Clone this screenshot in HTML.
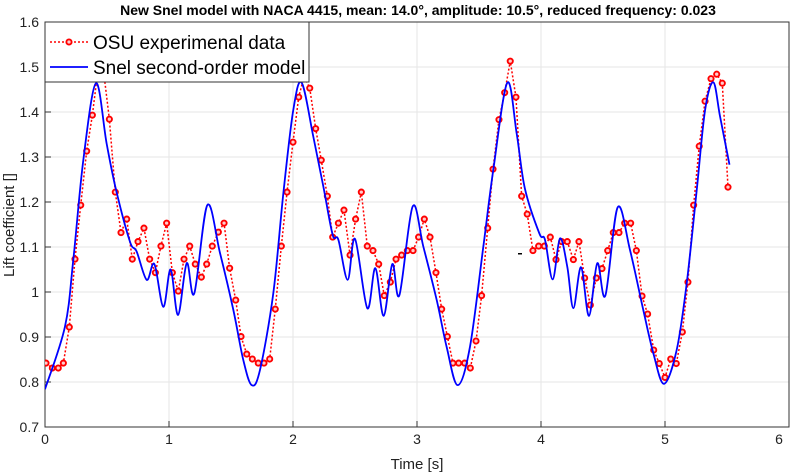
<!DOCTYPE html>
<html><head><meta charset="utf-8"><style>
body{margin:0;background:#fff;}
svg{display:block;font-family:"Liberation Sans",sans-serif;}
</style></head><body>
<svg id="chart" width="791" height="475"></svg>
<script>
const xTicks=[0,1,2,3,4,5,6];
const yTicks=[0.7,0.8,0.9,1.0,1.1,1.2,1.3,1.4,1.5,1.6];
const yTickLabels=["0.7","0.8","0.9","1","1.1","1.2","1.3","1.4","1.5","1.6"];
const osuT=[0.008,0.059,0.107,0.148,0.196,0.242,0.288,0.336,0.382,0.43,0.477,0.519,0.567,0.613,0.659,0.704,0.750,0.798,0.844,0.890,0.935,0.981,1.027,1.075,1.121,1.167,1.212,1.261,1.304,1.349,1.398,1.444,1.489,1.538,1.581,1.627,1.672,1.720,1.766,1.812,1.857,1.906,1.952,2.000,2.046,2.09,2.135,2.183,2.228,2.277,2.320,2.366,2.411,2.460,2.505,2.551,2.599,2.645,2.691,2.736,2.785,2.831,2.876,2.922,2.968,3.013,3.059,3.105,3.153,3.199,3.245,3.290,3.336,3.384,3.430,3.476,3.521,3.570,3.613,3.661,3.707,3.752,3.798,3.844,3.889,3.935,3.981,4.027,4.075,4.121,4.167,4.212,4.261,4.306,4.352,4.398,4.446,4.492,4.538,4.583,4.629,4.675,4.723,4.769,4.815,4.860,4.909,4.954,5.000,5.046,5.091,5.140,5.185,5.231,5.276,5.323,5.371,5.417,5.462,5.508];
const osuCl=[0.842,0.831,0.831,0.842,0.922,1.073,1.193,1.313,1.393,1.50,1.48,1.384,1.222,1.132,1.162,1.073,1.112,1.142,1.073,1.043,1.102,1.153,1.043,1.002,1.073,1.102,1.062,1.033,1.062,1.102,1.133,1.153,1.053,0.982,0.901,0.862,0.851,0.842,0.842,0.851,0.962,1.102,1.222,1.333,1.433,1.48,1.453,1.363,1.293,1.213,1.122,1.153,1.182,1.082,1.162,1.222,1.102,1.092,1.062,0.992,1.022,1.073,1.082,1.092,1.092,1.122,1.162,1.122,1.043,0.962,0.901,0.842,0.842,0.842,0.831,0.891,0.992,1.142,1.273,1.383,1.443,1.513,1.433,1.213,1.173,1.092,1.102,1.102,1.122,1.072,1.112,1.112,1.072,1.112,1.031,0.971,1.031,1.052,1.092,1.132,1.132,1.153,1.153,1.092,0.991,0.951,0.871,0.841,0.810,0.851,0.841,0.911,1.022,1.193,1.324,1.424,1.474,1.484,1.464,1.233];
const snelT=[0.0,0.161,0.228,0.309,0.411,0.497,0.573,0.685,0.739,0.820,0.882,0.954,1.013,1.073,1.143,1.204,1.309,1.411,1.519,1.599,1.667,1.734,1.841,1.922,2.002,2.070,2.164,2.245,2.320,2.366,2.441,2.500,2.599,2.664,2.731,2.801,2.858,2.965,3.051,3.159,3.239,3.328,3.427,3.535,3.615,3.728,3.804,3.870,3.987,4.032,4.094,4.153,4.212,4.261,4.323,4.387,4.454,4.519,4.618,4.718,4.825,4.906,4.992,5.094,5.175,5.256,5.323,5.390,5.444,5.520];
const snelCl=[0.784,0.923,1.071,1.293,1.464,1.330,1.227,1.112,1.090,1.027,1.062,0.967,1.050,0.949,1.064,0.997,1.193,1.087,0.960,0.849,0.793,0.827,0.997,1.219,1.404,1.465,1.345,1.234,1.127,1.116,1.027,1.118,0.964,1.053,0.947,1.062,0.993,1.190,1.101,0.982,0.878,0.793,0.878,1.101,1.271,1.465,1.352,1.230,1.130,1.116,1.028,1.119,1.056,0.964,1.055,0.947,1.064,0.992,1.188,1.093,0.960,0.864,0.796,0.871,1.019,1.227,1.404,1.466,1.390,1.283];

const NS="http://www.w3.org/2000/svg";
const svg=document.getElementById('chart');
const L=45,R=789,T=22,B=427;
const xs=t=>L+(t-0)/6*(R-L);
const ys=v=>B-(v-0.7)/0.9*(B-T);
function mk(tag,attrs,parent){const e=document.createElementNS(NS,tag);for(const k in attrs)e.setAttribute(k,attrs[k]);(parent||svg).appendChild(e);return e;}

const grid=mk('g',{});


xTicks.forEach(t=>{const l=mk('line',{x1:xs(t),x2:xs(t),y1:T,y2:B,stroke:'#e6e6e6','stroke-width':1},grid);

});
yTicks.forEach(v=>{const l=mk('line',{x1:L,x2:R,y1:ys(v),y2:ys(v),stroke:'#e6e6e6','stroke-width':1},grid);

});

const frame=mk('rect',{x:L,y:T,width:R-L,height:B-T,fill:'none',stroke:'#333','stroke-width':1});



xTicks.forEach((t,i)=>{mk('line',{x1:xs(t),x2:xs(t),y1:B,y2:B-6,stroke:'#333'});
const last=i===xTicks.length-1;
const tx=mk('text',{x:last?xs(t)-10:xs(t),y:B+17,'text-anchor':'middle','font-size':14,fill:'#222'});tx.textContent=String(t);

});
yTicks.forEach((v,i)=>{mk('line',{x1:L,x2:L+6,y1:ys(v),y2:ys(v),stroke:'#333'});
const tx=mk('text',{x:L-6,y:ys(v)+5,'text-anchor':'end','font-size':14,fill:'#222'});tx.textContent=yTickLabels[i];

});

function smoothPath(px,py){let d='M'+px[0]+','+py[0];for(let i=0;i<px.length-1;i++){const x0=px[Math.max(i-1,0)],y0=py[Math.max(i-1,0)],x1=px[i],y1=py[i],x2=px[i+1],y2=py[i+1],x3=px[Math.min(i+2,px.length-1)],y3=py[Math.min(i+2,px.length-1)];
d+=' C'+(x1+(x2-x0)/6)+','+(y1+(y2-y0)/6)+' '+(x2-(x3-x1)/6)+','+(y2-(y3-y1)/6)+' '+x2+','+y2;}return d;}

const clip=mk('clipPath',{id:'pc'});mk('rect',{x:L,y:T,width:R-L,height:B-T},clip);

const red=mk('polyline',{points:osuT.map((t,i)=>xs(t)+','+ys(osuCl[i])).join(' '),fill:'none',stroke:'#ff0000','stroke-width':1.5,'stroke-dasharray':'2,2','clip-path':'url(#pc)'});


const mg=mk('g',{'clip-path':'url(#pc)'});


osuT.forEach((t,i)=>{const c=mk('circle',{cx:xs(t),cy:ys(osuCl[i]),r:2.6,fill:'#ffcccc',stroke:'#ff0000','stroke-width':1.9},mg);

});

const blue=mk('path',{d:smoothPath(snelT.map(xs),snelCl.map(ys)),fill:'none',stroke:'#0000ff','stroke-width':1.8,'clip-path':'url(#pc)'});



mk('rect',{x:518,y:253,width:4,height:1.5,fill:'#000'});

const lg=mk('g',{});


mk('rect',{x:L,y:T,width:264,height:60,fill:'#fff',stroke:'#333','stroke-width':1},lg);
mk('line',{x1:50,x2:88,y1:42,y2:42,stroke:'#ff0000','stroke-width':1.5,'stroke-dasharray':'2,2'},lg);
mk('circle',{cx:69,cy:42,r:2.6,fill:'#ffcccc',stroke:'#ff0000','stroke-width':1.9},lg);
const t1=mk('text',{x:93,y:49,'font-size':19,fill:'#000'},lg);t1.textContent='OSU experimenal data';


mk('line',{x1:50,x2:88,y1:67,y2:67,stroke:'#0000ff','stroke-width':1.8},lg);
const t2=mk('text',{x:93,y:74,'font-size':19,fill:'#000'},lg);t2.textContent='Snel second-order model';



const title=mk('text',{x:418,y:15,'text-anchor':'middle','font-size':14,'font-weight':'bold',fill:'#000'});
title.textContent='New Snel model with NACA 4415, mean: 14.0°, amplitude: 10.5°, reduced frequency: 0.023';


const xl=mk('text',{x:417,y:469,'text-anchor':'middle','font-size':15,fill:'#222'});xl.textContent='Time [s]';


const yl=mk('text',{x:0,y:0,'text-anchor':'middle','font-size':15,fill:'#222',transform:'translate(14,225) rotate(-90)'});yl.textContent='Lift coefficient []';


</script>
</body></html>
